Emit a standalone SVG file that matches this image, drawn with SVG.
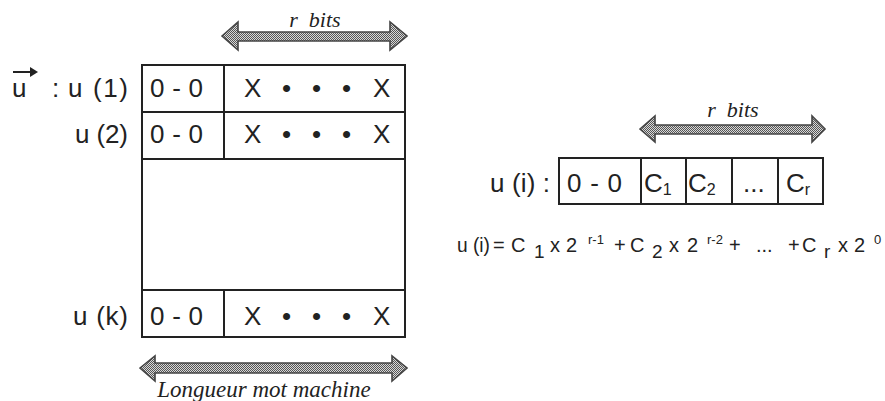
<svg xmlns="http://www.w3.org/2000/svg" width="885" height="401" viewBox="0 0 885 401">
<defs>
<pattern id="stip" width="2" height="2" patternUnits="userSpaceOnUse">
<rect width="2" height="2" fill="#d8d8d8"/>
<rect width="1" height="1" fill="#555"/>
<rect x="1" y="1" width="1" height="1" fill="#555"/>
</pattern>
</defs>
<style>
.cell{fill:#fff;stroke:#222;stroke-width:2}
.sans{font-family:"Liberation Sans",Arial,sans-serif;fill:#222}
.big{font-size:26px}
.ital{font-family:"Liberation Serif","Times New Roman",serif;font-style:italic;fill:#222}
.arr{fill:url(#stip);stroke:#444;stroke-width:1.6;stroke-linejoin:miter}
.f{font-size:20px}
.sup{font-size:13px}
.sub{font-size:19px}
</style>
<rect width="885" height="401" fill="#fff"/>

<g id="left-table">
<rect class="cell" x="142" y="65" width="263" height="272"/>
<line class="cell" x1="142" y1="112" x2="405" y2="112"/>
<line class="cell" x1="142" y1="159" x2="405" y2="159"/>
<line class="cell" x1="142" y1="290" x2="405" y2="290"/>
<line class="cell" x1="224" y1="65" x2="224" y2="159"/>
<line class="cell" x1="224" y1="290" x2="224" y2="337"/>
<g id="row-1">
<text class="sans big" x="12" y="97">u</text>
<line x1="13" y1="72" x2="34" y2="72" stroke="#222" stroke-width="2"/>
<path d="M30 67 L38 72 L30 77 Z" fill="#222"/>
<text class="sans big" x="52" y="97">:</text>
<text class="sans big" x="68" y="97" textLength="60" lengthAdjust="spacing">u (1)</text>
<text class="sans big" x="150" y="97" textLength="53" lengthAdjust="spacing">0 - 0</text>
<text class="sans big" y="97"><tspan x="244">X</tspan><tspan x="282">•</tspan><tspan x="312">•</tspan><tspan x="342">•</tspan><tspan x="373">X</tspan></text>
</g>
<g id="row-2">
<text class="sans big" x="75" y="143" textLength="53" lengthAdjust="spacing">u (2)</text>
<text class="sans big" x="150" y="143" textLength="53" lengthAdjust="spacing">0 - 0</text>
<text class="sans big" y="143"><tspan x="244">X</tspan><tspan x="282">•</tspan><tspan x="312">•</tspan><tspan x="342">•</tspan><tspan x="373">X</tspan></text>
</g>
<g id="row-k">
<text class="sans big" x="73" y="325" textLength="55" lengthAdjust="spacing">u (k)</text>
<text class="sans big" x="150" y="325" textLength="53" lengthAdjust="spacing">0 - 0</text>
<text class="sans big" y="325"><tspan x="244">X</tspan><tspan x="282">•</tspan><tspan x="312">•</tspan><tspan x="342">•</tspan><tspan x="373">X</tspan></text>
</g>
</g>

<g id="right-table">
<text class="sans big" x="490" y="192" textLength="60" lengthAdjust="spacing">u (i) :</text>
<rect class="cell" x="559" y="158" width="264" height="46"/>
<line class="cell" x1="641" y1="158" x2="641" y2="204"/>
<line class="cell" x1="686" y1="158" x2="686" y2="204"/>
<line class="cell" x1="732" y1="158" x2="732" y2="204"/>
<line class="cell" x1="778" y1="158" x2="778" y2="204"/>
<text class="sans big" x="567" y="192" textLength="55" lengthAdjust="spacing">0 - 0</text>
<text class="sans big" x="644" y="192">C<tspan font-size="16" dy="3">1</tspan></text>
<text class="sans big" x="688" y="192">C<tspan font-size="16" dy="3">2</tspan></text>
<text class="sans big" x="743" y="192">...</text>
<text class="sans big" x="786" y="192">C<tspan font-size="16" dy="3">r</tspan></text>
</g>

<g id="formula">
<text class="sans f" x="457" y="252" textLength="33" lengthAdjust="spacingAndGlyphs">u (i)</text>
<text class="sans f" x="493" y="252">=</text>
<text class="sans f" x="511" y="252">C</text>
<text class="sans sub" x="534" y="258">1</text>
<text class="sans f" x="550" y="252">x</text>
<text class="sans f" x="566" y="252">2</text>
<text class="sans sup" x="588" y="244">r-1</text>
<text class="sans f" x="614" y="252">+</text>
<text class="sans f" x="630" y="252">C</text>
<text class="sans sub" x="652" y="258">2</text>
<text class="sans f" x="669" y="252">x</text>
<text class="sans f" x="687" y="252">2</text>
<text class="sans sup" x="707" y="244">r-2</text>
<text class="sans f" x="729" y="252">+</text>
<text class="sans f" x="756" y="252">...</text>
<text class="sans f" x="788" y="252">+</text>
<text class="sans f" x="802" y="252">C</text>
<text class="sans sub" x="824" y="258" font-size="17">r</text>
<text class="sans f" x="838" y="252">x</text>
<text class="sans f" x="854" y="252">2</text>
<text class="sans sup" x="874" y="244" font-size="14">0</text>
</g>

<g id="connectors">
<g id="arrow-rbits-left">
<path class="arr" d="M222 36 L238 22 L238 32 L390 32 L390 22 L407 36 L390 50 L390 41 L238 41 L238 50 Z"/>
<text class="ital" x="315" y="27" font-size="22" text-anchor="middle" xml:space="preserve">r  bits</text>
</g>
<g id="arrow-word-length">
<path class="arr" d="M140 368 L155 356 L155 363 L392 363 L392 356 L407 368 L392 381 L392 373 L155 373 L155 381 Z"/>
<text class="ital" x="264" y="397" font-size="23" text-anchor="middle">Longueur mot machine</text>
</g>
<g id="arrow-rbits-right">
<path class="arr" d="M640 129 L655 116 L655 125 L812 125 L812 116 L825 129 L812 142 L812 134 L655 134 L655 142 Z"/>
<text class="ital" x="733" y="117" font-size="22" text-anchor="middle" xml:space="preserve">r  bits</text>
</g>
</g>
</svg>
